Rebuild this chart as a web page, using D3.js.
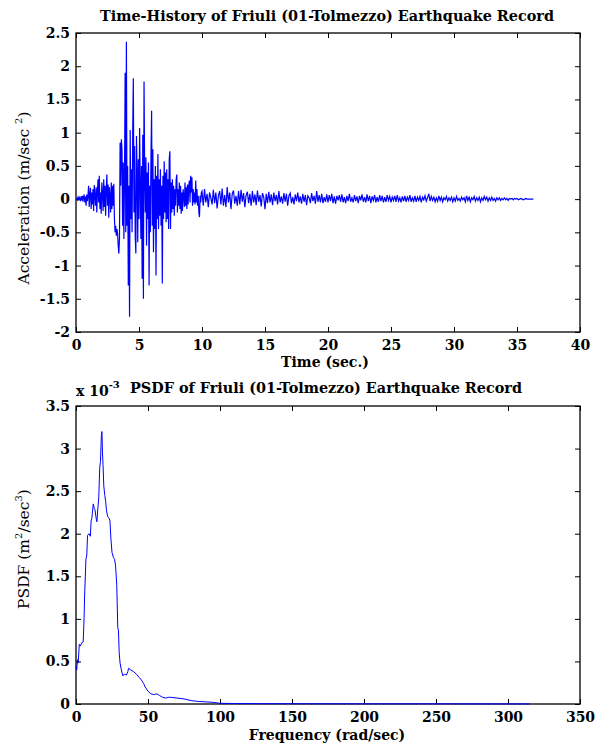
<!DOCTYPE html>
<html lang="en">
<head>
<meta charset="UTF-8">
<script src="https://cdn.jsdelivr.net/npm/d3@7"></script>
<title>Friuli earthquake record</title>
<style>
  body { margin: 0; background: #fff; }
  text { font-family: "DejaVu Serif", serif; }
</style>
</head>
<body>
<div id="vis"></div>
<script>
    // acceleration record, 0 - 10 s sampled every 0.05 s (m/sec^2)
    var dtStrong = 0.05;
    var strongAccel = [
        0, 0.01, -0.01, 0.02, -0.02, 0.03, 0.01, -0.03, 0.04, -0.02, 0.05, -0.04, 0.03, 0.07, -0.05, 0.04, -0.10, 0.07, -0.03, 0.05,
        0.20, -0.12, 0.08, 0.17, -0.15, 0.10, -0.08, 0.15, -0.18, 0.21, 0.05, -0.10, 0.18, -0.20, 0.12, 0.30, -0.05, 0.35, -0.15, 0.10,
        -0.22, 0.25, 0.10, -0.18, 0.30, -0.12, 0.20, -0.25, 0.15, 0.37, -0.10, 0.22, -0.28, 0.18, 0.05, -0.20, 0.25, -0.15, 0.20, -0.10,
        0.23, -0.30, -0.50, -0.40, -0.55, -0.45, -0.52, -0.70, -0.82, -0.60, 0.85, 0.20, 0.90, 0.75, -0.40, 0.55, -0.60, 0.30, 1.90, -0.50,
        2.37, -0.40, 0.50, -1.30, 0.20, -1.77, 1.04, -0.30, 0.45, -0.50, 1.00, 1.82, -0.20, 0.80, -0.55, -0.82, 0.95, 0.40, -0.65, 0.60,
        -0.30, 1.07, 0.20, -0.60, 0.50, -1.20, 0.97, -1.50, 1.77, 0.40, -0.20, 0.63, -0.70, 0.40, -0.30, 0.55, -1.30, 0.20, -0.50, 0.65,
        1.33, -0.40, 0.75, -0.80, 0.30, -0.45, 0.50, -1.15, 0.35, -0.30, 0.68, -0.45, 0.30, -0.25, 0.45, -0.40, 0.20, -1.27, 0.35, -0.30,
        0.57, -0.20, 0.40, -0.35, 0.45, -0.30, 0.30, -0.45, 0.60, 0.72, -0.45, 0.25, -0.20, 0.30, -0.15, 0.20, -0.25, 0.15, -0.10, 0.30,
        0.37, -0.20, 0.15, -0.10, 0.25, -0.15, 0.20, -0.22, 0.10, -0.18, 0.15, 0.05, -0.12, 0.25, -0.10, 0.18, -0.15, 0.22, -0.08, 0.20,
        0.28, -0.05, 0.35, 0.10, 0.33, -0.10, 0.15, -0.05, 0.10, -0.08, 0.28, -0.05, 0.15, -0.10, 0.05, -0.20, -0.27, 0.05, -0.05, 0.10
    ];

    // tail of the record, 10 s - 36.3 s sampled every 0.1 s
    var tailStart = 10, dtTail = 0.1;
    var tailAccel = [
        0.12, -0.10, 0.15, -0.05, 0.08, -0.12, 0.10, 0.02, -0.08, 0.14,
        -0.06, 0.10, -0.14, 0.05, 0.12, -0.08, 0.16, -0.10, 0.06, -0.12,
        0.18, -0.05, 0.10, -0.15, 0.08, 0.13, -0.07, 0.05, -0.10, 0.12,
        -0.08, 0.14, -0.04, 0.09, -0.12, 0.06, 0.11, -0.06, 0.08, -0.10,
        0.12, -0.05, 0.07, -0.09, 0.13, -0.04, 0.06, -0.11, 0.09, 0.03,
        -0.15, 0.08, -0.06, 0.11, -0.05, 0.07, -0.09, 0.10, -0.03, 0.06,
        -0.08, 0.12, -0.05, 0.04, -0.07, 0.09, -0.04, 0.08, -0.10, 0.05,
        0.09, -0.06, 0.03, -0.08, 0.07, -0.03, 0.10, -0.05, 0.04, -0.07,
        0.08, -0.04, 0.06, -0.09, 0.05, 0.02, -0.06, 0.09, -0.03, 0.05,
        -0.07, 0.12, -0.04, 0.06, -0.05, 0.08, -0.06, 0.03, -0.04, 0.07,
        -0.05, 0.06, -0.03, 0.08, -0.06, 0.04, -0.07, 0.05, -0.02, 0.06,
        -0.04, 0.07, -0.05, 0.03, -0.06, 0.05, -0.03, 0.08, -0.04, 0.02,
        -0.05, 0.06, -0.03, 0.04, -0.06, 0.05, -0.02, 0.07, -0.04, 0.03,
        -0.05, 0.07, -0.03, 0.05, -0.06, 0.04, -0.02, 0.06, -0.05, 0.03,
        -0.04, 0.06, -0.03, 0.05, -0.05, 0.03, -0.04, 0.06, -0.02, 0.04,
        -0.05, 0.03, -0.02, 0.05, -0.04, 0.06, -0.03, 0.02, -0.05, 0.04,
        -0.03, 0.05, -0.04, 0.03, -0.02, 0.06, -0.04, 0.02, -0.03, 0.05,
        -0.04, 0.03, -0.02, 0.04, -0.05, 0.03, -0.01, 0.05, -0.03, 0.02,
        0.08, -0.03, 0.04, -0.02, 0.03, -0.04, 0.02, -0.03, 0.05, -0.02,
        0.03, -0.04, 0.02, -0.01, 0.04, -0.03, 0.02, -0.02, 0.03, -0.04,
        0.02, -0.03, 0.04, -0.02, 0.01, -0.03, 0.03, -0.01, 0.02, -0.04,
        0.05, -0.02, 0.03, -0.04, 0.02, -0.01, 0.04, -0.03, 0.02, -0.02,
        0.03, -0.04, 0.02, -0.02, 0.04, -0.01, 0.03, -0.03, 0.02, -0.02,
        0.03, -0.02, 0.01, -0.03, 0.02, -0.01, 0.02, -0.02, 0.01, -0.01,
        0.02, -0.01, 0.01, -0.02, 0.01, 0.00, 0.01, -0.01, 0.01, 0.00,
        0.01, -0.01, 0.00, 0.01, 0.00, -0.01, 0.00, 0.01, 0.00, 0.00,
        0.00, 0.00, 0.00, 0.00
    ];

    // power spectral density (x 10^-3 m^2/sec^3) against frequency (rad/sec)
    var freqs = [0, 0.5, 1, 1.5, 2.3, 3, 4, 5, 5.6, 6, 6.9, 7.5, 8, 9, 10, 10.5, 11, 12, 12.6, 13.2,
                 14, 14.5, 15.2, 15.8, 16.5, 17, 17.6, 18, 18.4, 18.8, 19.3, 20, 20.6, 21.2, 22, 23, 23.6, 24.2, 25, 26,
                 26.8, 27.5, 28.3, 29, 29.5, 30, 30.6, 31.5, 32.5, 33.5, 35, 36, 36.5, 38, 40, 42, 44, 45.5, 47, 48,
                 50, 52, 54, 56, 58, 60, 62, 65, 70, 75, 80, 85, 90, 95, 100, 110, 130, 160, 200, 250, 300, 315];
    var psdf = [0.45, 0.40, 0.52, 0.48, 0.70, 0.68, 0.72, 0.73, 1.00, 1.28, 1.70, 1.75, 1.98, 2.00, 1.97, 2.15, 2.18, 2.35, 2.30, 2.28,
                2.18, 2.14, 2.30, 2.42, 2.78, 2.85, 3.15, 3.20, 2.95, 2.80, 2.56, 2.45, 2.38, 2.27, 2.20, 2.18, 2.15, 1.95, 1.78, 1.72,
                1.70, 1.62, 1.40, 0.90, 0.86, 0.60, 0.48, 0.40, 0.33, 0.35, 0.34, 0.38, 0.42, 0.40, 0.38, 0.35, 0.31, 0.28, 0.24, 0.20,
                0.15, 0.12, 0.11, 0.12, 0.10, 0.08, 0.07, 0.08, 0.07, 0.06, 0.04, 0.03, 0.025, 0.02, 0.008, 0.006, 0.004, 0.003, 0.002, 0.002, 0.001, 0.001];

    var timeTicks = [0, 5, 10, 15, 20, 25, 30, 35, 40],
        accelTicks = [-2, -1.5, -1, -0.5, 0, 0.5, 1, 1.5, 2, 2.5],
        freqTicks = [0, 50, 100, 150, 200, 250, 300, 350],
        psdfTicks = [0, 0.5, 1, 1.5, 2, 2.5, 3, 3.5];

    var width = 598, height = 748,
        svg = d3.select("#vis").append("svg").attr("width", width).attr("height", height);

    var fmt = function(d){ return String(d); };

    // draws box axes with inward ticks on all four sides, MATLAB style
    function makeAxes(box, xDomain, yDomain, xTicks, yTicks) {
        var x = d3.scaleLinear().domain(xDomain).range([box.left, box.right]),
            y = d3.scaleLinear().domain(yDomain).range([box.bottom, box.top]),
            g = svg.append("g");

        g.append("g").attr("transform", "translate(0," + box.bottom + ")")
            .call(d3.axisBottom(x).tickValues(xTicks).tickFormat(fmt).tickSizeInner(-5).tickSizeOuter(0).tickPadding(8));
        g.append("g").attr("transform", "translate(0," + box.top + ")")
            .call(d3.axisTop(x).tickValues(xTicks).tickFormat("").tickSizeInner(-5).tickSizeOuter(0));
        g.append("g").attr("transform", "translate(" + box.left + ",0)")
            .call(d3.axisLeft(y).tickValues(yTicks).tickFormat(fmt).tickSizeInner(-5).tickSizeOuter(0).tickPadding(6));
        g.append("g").attr("transform", "translate(" + box.right + ",0)")
            .call(d3.axisRight(y).tickValues(yTicks).tickFormat("").tickSizeInner(-5).tickSizeOuter(0));

        g.selectAll(".domain").remove();
        g.selectAll(".tick line").attr("stroke", "#000");
        g.selectAll(".tick text")
            .style("font-family", "'DejaVu Serif', serif")
            .style("font-size", "14px")
            .style("font-weight", "bold")
            .attr("fill", "#000");

        svg.append("rect")
            .attr("x", box.left).attr("y", box.top)
            .attr("width", box.right - box.left).attr("height", box.bottom - box.top)
            .attr("fill", "none").attr("stroke", "#000").attr("stroke-width", 1.3);
        return {x: x, y: y};
    }

    // ---------- upper panel: time history ----------
    var boxTop = {left: 76, right: 580, top: 33, bottom: 332};
    var s1 = makeAxes(boxTop, [0, 40], [-2, 2.5], timeTicks, accelTicks);

    var record = strongAccel.map(function(a, i){ return [i * dtStrong, a]; })
        .concat(tailAccel.map(function(a, i){ return [tailStart + i * dtTail, a]; }));

    svg.append("path")
        .datum(record)
        .attr("fill", "none")
        .attr("stroke", "#0000ff")
        .attr("stroke-width", 1.2)
        .attr("d", d3.line().x(function(d){ return s1.x(d[0]); }).y(function(d){ return s1.y(d[1]); }));

    svg.append("text").attr("x", 327).attr("y", 21).attr("text-anchor", "middle")
        .style("font-size", "14.4px").style("font-weight", "bold")
        .text("Time-History of Friuli (01-Tolmezzo) Earthquake Record");

    svg.append("text").attr("x", 325).attr("y", 367).attr("text-anchor", "middle")
        .style("font-size", "14px").style("font-weight", "bold")
        .text("Time (sec.)");

    var yl1 = svg.append("text").attr("transform", "translate(29,198) rotate(-90)")
        .attr("text-anchor", "middle").style("font-size", "15.5px");
    yl1.append("tspan").text("Acceleration (m/sec ");
    yl1.append("tspan").attr("dy", -7).style("font-size", "10px").text("2");
    yl1.append("tspan").attr("dy", 7).text(")");

    // ---------- lower panel: PSDF ----------
    var boxBot = {left: 76, right: 580, top: 406, bottom: 704};
    var s2 = makeAxes(boxBot, [0, 350], [0, 3.5], freqTicks, psdfTicks);

    svg.append("path")
        .datum(freqs.map(function(f, i){ return [f, psdf[i]]; }))
        .attr("fill", "none")
        .attr("stroke", "#0000ff")
        .attr("stroke-width", 1)
        .attr("d", d3.line().x(function(d){ return s2.x(d[0]); }).y(function(d){ return s2.y(d[1]); }));

    svg.append("text").attr("x", 326).attr("y", 393).attr("text-anchor", "middle")
        .style("font-size", "14.4px").style("font-weight", "bold")
        .text("PSDF of Friuli (01-Tolmezzo) Earthquake Record");

    var expo = svg.append("text").attr("x", 76).attr("y", 396)
        .style("font-size", "14px").style("font-weight", "bold");
    expo.append("tspan").text("x 10");
    expo.append("tspan").attr("dy", -8).style("font-size", "10px").text("-3");

    svg.append("text").attr("x", 327).attr("y", 740).attr("text-anchor", "middle")
        .style("font-size", "14px").style("font-weight", "bold")
        .text("Frequency (rad/sec)");

    var yl2 = svg.append("text").attr("transform", "translate(29,549) rotate(-90)")
        .attr("text-anchor", "middle").style("font-size", "15.5px");
    yl2.append("tspan").text("PSDF (m");
    yl2.append("tspan").attr("dy", -7).style("font-size", "10px").text("2");
    yl2.append("tspan").attr("dy", 7).text("/sec");
    yl2.append("tspan").attr("dy", -7).style("font-size", "10px").text("3");
    yl2.append("tspan").attr("dy", 7).text(")");
</script>
</body>
</html>
